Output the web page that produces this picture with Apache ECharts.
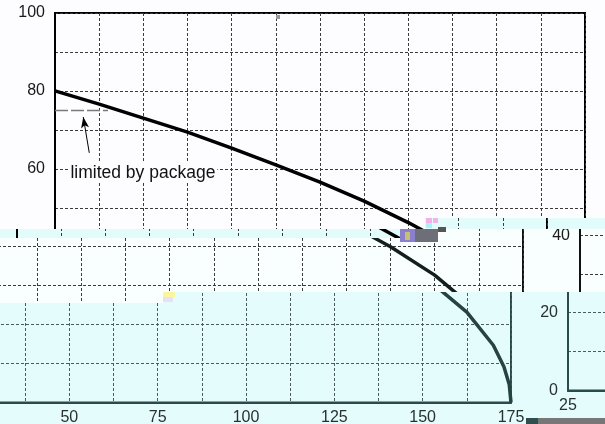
<!DOCTYPE html>
<html>
<head>
<meta charset="utf-8">
<script src="https://cdn.jsdelivr.net/npm/echarts@6/dist/echarts.min.js"></script>
<style>
html,body{margin:0;padding:0;background:#fdfcff;overflow:hidden}
#stage{position:relative;width:605px;height:424px;overflow:hidden}
.tile{position:absolute;overflow:hidden}
.inner{position:absolute;width:605px;height:424px}
</style>
</head>
<body>
<div id="stage"></div>
<script>
// ---- data ----
const caseTemp     = [25, 37.5, 50, 62.5, 75, 87.5, 100, 112.5, 125, 137.5, 150, 162.5, 170, 173, 174.5, 175];
const drainCurrent = [80, 76.6, 73.0, 69.4, 65.3, 61.0, 56.6, 51.7, 46.2, 40.0, 32.7, 23.2, 14.7, 9.2, 4.6, 0];
const limitTemp    = [25, 40];
const limitCurrent = [75, 75];
const xTickLabels  = [25, 50, 75, 100, 125, 150, 175];
const yTickLabels  = [0, 20, 40, 60, 80, 100];
const annotationText = 'limited by package';
const arrowFrom  = [34.7, 64.1];
const arrowTo    = [33.0, 73.3];
const textAnchor = [28.8, 59.0];

const FONT = 'Liberation Sans, Arial, sans-serif';

function makeOption(p) {
  return {
    animation: false,
    backgroundColor: p.bg,
    grid: {left: 55, top: 13, width: 530, height: 389.5, containLabel: false, outerBoundsMode: 'none',
           show: true, borderColor: p.ink, borderWidth: 2, backgroundColor: 'transparent'},
    xAxis: {
      type: 'value', min: 25, max: 175, interval: 12.5,
      axisLine: {show: true, onZero: false, lineStyle: {color: p.ink, width: 2}},
      axisTick: {show: false},
      axisLabel: {margin: 7, fontSize: 16, fontFamily: FONT, color: p.label,
                  formatter: v => xTickLabels.includes(v) ? String(v) : ''},
      splitLine: {show: true, lineStyle: {color: p.gridc, width: 1, type: [3, 2]}}
    },
    yAxis: {
      type: 'value', min: 0, max: 100, interval: 10,
      axisLine: {show: true, onZero: false, lineStyle: {color: p.ink, width: 2}},
      axisTick: {show: false},
      axisLabel: {margin: 10, fontSize: 16, fontFamily: FONT, color: p.label,
                  formatter: v => yTickLabels.includes(v) ? String(v) : ''},
      splitLine: {show: true, lineStyle: {color: p.gridc, width: 1, type: [3, 2]}}
    },
    series: [
      {type: 'line', data: caseTemp.map((t, i) => [t, drainCurrent[i]]), symbol: 'none',
       lineStyle: {color: p.curve, width: 3.5}, z: 5, clip: true},
      {type: 'line', data: limitTemp.map((t, i) => [t, limitCurrent[i]]), symbol: 'none',
       lineStyle: {color: '#7a7a7a', width: 1.5, type: [13, 3]}, z: 4,
       markLine: {silent: true, symbol: ['none', 'arrow'], symbolSize: [6, 11],
                  lineStyle: {color: p.ink, width: 1, type: 'solid'}, label: {show: false},
                  data: [[{coord: arrowFrom}, {coord: arrowTo}]]},
       markPoint: {symbol: 'rect', symbolSize: 0,
                   label: {show: true, position: 'right', distance: 0, formatter: annotationText,
                           fontSize: 17.5, fontFamily: FONT, color: '#111', backgroundColor: p.bg, padding: [1, 2]},
                   data: [{coord: textAnchor}]}}
    ]
  };
}

const P0 = {bg: '#fdfcff', ink: '#000', curve: '#000', gridc: '#3a3a3a', label: '#1a1a1a'};
const P1 = {bg: '#e2fcfc', ink: '#000', curve: '#000', gridc: '#3a3a3a', label: '#1a1a1a'};
const P2 = {bg: '#f9fefe', ink: '#111', curve: '#141e1e', gridc: '#3a3a3a', label: '#1a1a1a'};
const P3 = {bg: '#e4fcfc', ink: '#2d4a4a', curve: '#264242', gridc: '#4c5c5c', label: '#2a3030'};

const WRAP = 587;
const tiles = [
  {r: [0, 0, 605, 218],     dx: 0,          dy: 0,   p: P0},
  {r: [0, 218, 425, 11],    dx: 0,          dy: 0,   p: P0},
  {r: [425, 218, 180, 11],  dx: -38,        dy: 0,   p: P1},
  {r: [0, 229, 400, 9],     dx: -38,        dy: 0,   p: P1},
  {r: [0, 238, 163, 65],    dx: -62,        dy: 0,   p: P2},
  {r: [163, 238, 277, 54],  dx: -62,        dy: 0,   p: P2},
  {r: [440, 229, 85, 63],   dx: -62,        dy: 0,   p: P2},
  {r: [525, 229, 80, 63],   dx: -62 + WRAP, dy: -11, p: P2},
  {r: [0, 303, 163, 121],   dx: -74,        dy: 0,   p: P3},
  {r: [163, 292, 350, 112], dx: -74,        dy: 0,   p: P3},
  {r: [163, 404, 363, 20],  dx: -74,        dy: 0,   p: P3},
  {r: [513, 292, 92, 112],  dx: -74 + WRAP, dy: -12, p: P3},
  {r: [526, 404, 79, 20],   dx: -74 + WRAP, dy: -12, p: P3}
];

const stage = document.getElementById('stage');
tiles.forEach(t => {
  const tile = document.createElement('div');
  tile.className = 'tile';
  tile.style.left = t.r[0] + 'px'; tile.style.top = t.r[1] + 'px';
  tile.style.width = t.r[2] + 'px'; tile.style.height = t.r[3] + 'px';
  tile.style.background = t.p.bg;
  const inner = document.createElement('div');
  inner.className = 'inner';
  inner.style.left = (t.dx - t.r[0]) + 'px';
  inner.style.top = (t.dy - t.r[1]) + 'px';
  tile.appendChild(inner);
  stage.appendChild(tile);
  echarts.init(inner, null, {renderer: 'canvas', width: 605, height: 424}).setOption(makeOption(t.p));
});

// overlay for the compression blocks of the picture
const ov = document.createElement('div');
ov.style.cssText = 'position:absolute;left:0;top:0;width:605px;height:424px;pointer-events:none';
stage.appendChild(ov);
echarts.init(ov, null, {width: 605, height: 424}).setOption({
  animation: false,
  graphic: [
    {type: 'rect', shape: {x: 400, y: 229, width: 15, height: 13}, style: {fill: '#8a80cc'}},
    {type: 'rect', shape: {x: 405, y: 232, width: 5, height: 8}, style: {fill: '#c8c070'}},
    {type: 'rect', shape: {x: 415, y: 229, width: 23, height: 13}, style: {fill: '#6e6e78'}},
    {type: 'rect', shape: {x: 426, y: 218, width: 6, height: 5}, style: {fill: '#f5b0ea'}},
    {type: 'rect', shape: {x: 426, y: 223, width: 6, height: 5}, style: {fill: '#a8f2f6'}},
    {type: 'rect', shape: {x: 433, y: 218, width: 5, height: 5}, style: {fill: '#f5b0ea'}},
    {type: 'rect', shape: {x: 438, y: 227, width: 8, height: 5}, style: {fill: '#555'}},
    {type: 'rect', shape: {x: 163, y: 292, width: 12, height: 5}, style: {fill: '#faf6a0'}},
    {type: 'rect', shape: {x: 163, y: 297, width: 10, height: 5}, style: {fill: '#e8e0f5'}},
    {type: 'rect', shape: {x: 276, y: 15, width: 4, height: 4}, style: {fill: '#999'}},
    {type: 'rect', shape: {x: 526, y: 418, width: 12, height: 6}, style: {fill: '#2f4f4f'}},
    {type: 'rect', shape: {x: 538, y: 418, width: 67, height: 6}, style: {fill: '#777'}}
  ]
});
</script>
</body>
</html>
